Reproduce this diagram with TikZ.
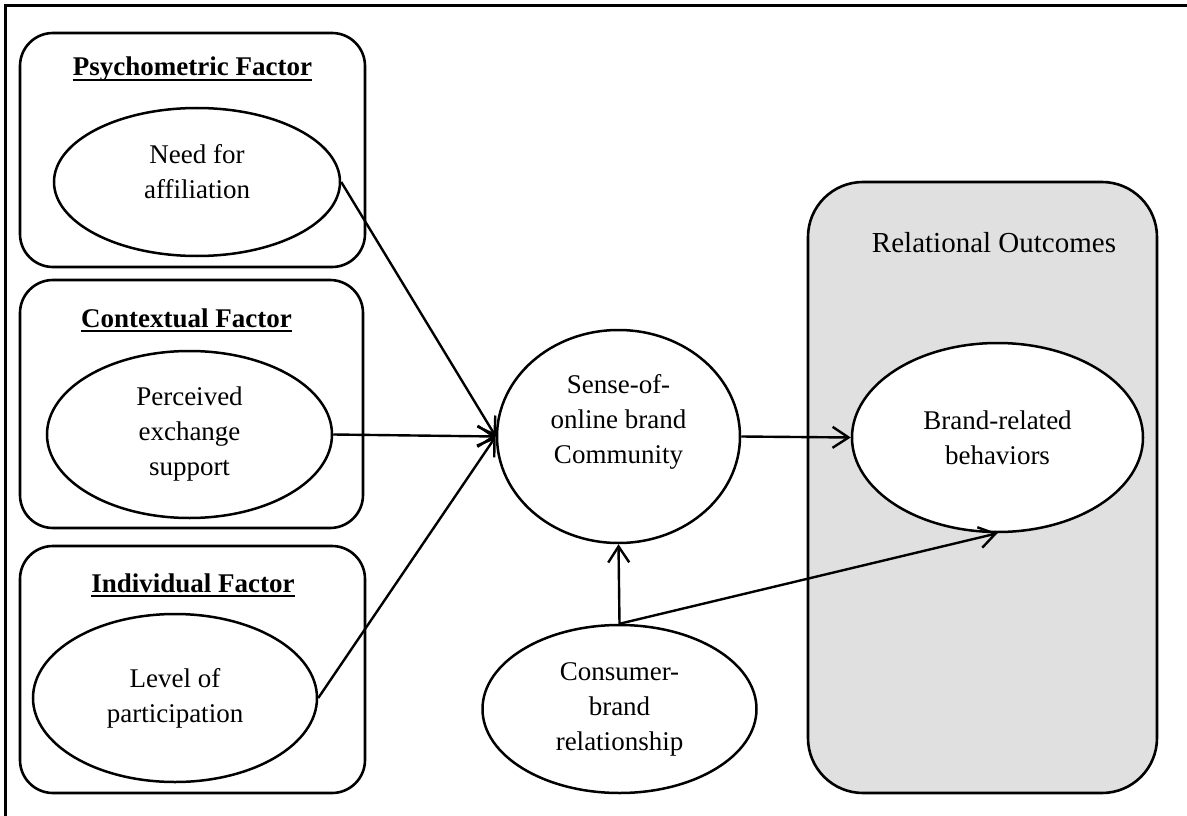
\documentclass[tikz,border=0pt]{standalone}
\usepackage{fontspec}
\setmainfont{Liberation Serif}
\usetikzlibrary{shapes.geometric,arrows.meta}
\definecolor{outcomegray}{RGB}{224,224,224}
\begin{document}
\begin{tikzpicture}[x=1pt,y=-1pt,
  every node/.style={font=\fontsize{27}{35}\selectfont},
  factorbox/.style={draw, line width=2.6pt, rounded corners=33pt, inner sep=0pt},
  outcomebox/.style={draw, line width=2.6pt, rounded corners=55pt, inner sep=0pt, fill=outcomegray},
  construct/.style={draw, ellipse, line width=2.5pt, inner sep=0pt, fill=white, align=center},
  caption/.style={align=center, inner sep=0pt},
  boxtitle/.style={font=\fontsize{27}{35}\selectfont\bfseries, inner sep=0pt, anchor=base},
  rule/.style={line width=2.2pt},
  link/.style={line width=2.4pt, -{Straight Barb[length=16pt,width=21pt]}}]
\useasboundingbox (0,0) rectangle (1187,816);

% frame
\draw[line width=2.4pt] (5.5,816) -- (5.5,5.5) -- (1187,5.5);

% factor groups
\node[factorbox, minimum width=345pt, minimum height=234pt] (psybox) at (192.5,150) {};
\node[factorbox, minimum width=343pt, minimum height=248pt] (ctxbox) at (191.5,404) {};
\node[factorbox, minimum width=345pt, minimum height=247pt] (indbox) at (192.5,669.5) {};

\node[boxtitle] (psytitle) at (192.5,76) {Psychometric Factor};
\node[boxtitle] (ctxtitle) at (186.5,327) {Contextual Factor};
\node[boxtitle] (indtitle) at (193,592) {Individual Factor};
\foreach \t in {psytitle,ctxtitle,indtitle}
  \draw[rule] ([yshift=-4pt]\t.base west) -- ([yshift=-4pt]\t.base east);

% outcome group
\node[outcomebox, minimum width=349pt, minimum height=611pt] (outbox) at (982.5,487.5) {};
\node[inner sep=0pt, anchor=base, font=\fontsize{29}{35}\selectfont] (outtitle) at (994,252) {Relational Outcomes};

% constructs
\node[construct, minimum width=286pt, minimum height=148pt] (need) at (197,182) {};
\node[caption] (needtxt) at (197,172) {Need for\\affiliation};
\node[construct, minimum width=285pt, minimum height=167pt] (perc) at (189.5,434.5) {Perceived\\exchange\\support};
\node[construct, minimum width=284pt, minimum height=168pt] (level) at (175,698) {Level of\\participation};
\node[construct, minimum width=243pt, minimum height=213pt] (sense) at (618.5,436.5) {};
\node[caption] (sensetxt) at (618.5,421.5) {Sense-of-\\online brand\\Community};
\node[construct, minimum width=274pt, minimum height=168pt] (cons) at (619.5,709) {Consumer-\\brand\\relationship};
\node[construct, minimum width=291pt, minimum height=189pt] (brand) at (997.5,437.5) {Brand-related\\behaviors};

% paths
\draw[link] (need.east) -- (sense.west);
\draw[link] (perc.east) -- (sense.west);
\draw[link] (level.east) -- (sense.west);
\draw[link] (sense.east) -- (brand.west);
\draw[link] (cons.north) -- (sense.south);
\draw[link] (cons.north) -- (brand.south);
\end{tikzpicture}
\end{document}
